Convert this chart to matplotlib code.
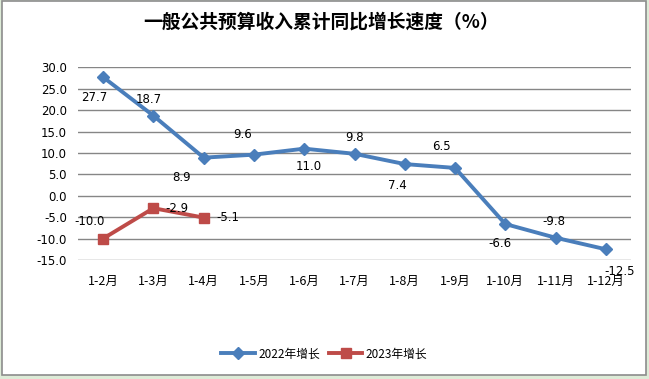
import numpy as np
import matplotlib.pyplot as plt
from matplotlib.patches import Rectangle

plt.rcParams['font.family'] = ['Noto Sans CJK SC', 'DejaVu Sans']

# data
months = ['1-2月', '1-3月', '1-4月', '1-5月', '1-6月', '1-7月', '1-8月', '1-9月', '1-10月', '1-11月', '1-12月']
growth_2022 = [27.7, 18.7, 8.9, 9.6, 11.0, 9.8, 7.4, 6.5, -6.6, -9.8, -12.5]
growth_2023 = [-10.0, -2.9, -5.1]

# label offsets in pixels (dx, dy) relative to each point
off_2022 = [(-9, -20), (-5, 16), (-22, -20), (-11, 20), (5, -18), (0, 16),
            (-7, -21), (-14, 21), (-5, -19), (-2, 16), (14, -22)]
off_2023 = [(-14, 17), (24, 0), (24, 0)]

blue = '#4A7EBB'
red = '#BE4B48'

fig = plt.figure(figsize=(6.49, 3.79), dpi=100)
fig.patch.set_facecolor('#DDEBD7')
# white chart area with grey frame
fig.patches.append(Rectangle((2 / 649, 1 - 375 / 379), 644 / 649, 374 / 379,
                             transform=fig.transFigure, facecolor='white',
                             edgecolor='#8C8C8C', linewidth=1.2, zorder=-10))

ax = fig.add_axes([78 / 649, 1 - 260 / 379, 553 / 649, 192.7 / 379])
ax.set_facecolor('none')

x = np.arange(len(months))
x23 = np.arange(len(growth_2023))

ax.plot(x, growth_2022, color=blue, lw=2.8, marker='D', ms=6.5,
        label='2022年增长', zorder=3)
ax.plot(x23, growth_2023, color=red, lw=2.8, marker='s', ms=7.5,
        label='2023年增长', zorder=3)

for xi, v, (dx, dy) in zip(x, growth_2022, off_2022):
    ax.annotate(f'{v:.1f}', (xi, v), xytext=(dx, dy), textcoords='offset pixels',
                ha='center', va='center', fontsize=8.5, family='DejaVu Sans')
for xi, v, (dx, dy) in zip(x23, growth_2023, off_2023):
    ax.annotate(f'{v:.1f}', (xi, v), xytext=(dx, dy), textcoords='offset pixels',
                ha='center', va='center', fontsize=8.5, family='DejaVu Sans')

ax.set_xlim(-0.5, len(months) - 0.5)
ax.set_ylim(-15, 30)
ax.set_yticks(np.arange(-15, 31, 5))
ax.set_yticklabels([f'{t:.1f}' for t in np.arange(-15, 31, 5)], fontsize=8.5,
                   family='DejaVu Sans')
ax.set_xticks(x)
ax.set_xticklabels(months, fontsize=9)
ax.tick_params(length=0)
ax.tick_params(axis='x', pad=11)
ax.tick_params(axis='y', pad=8)
ax.grid(axis='y', color='#868686', lw=1)
ax.set_axisbelow(True)
for s in ax.spines.values():
    s.set_visible(False)

fig.text(0.495, 1 - 22 / 379, '一般公共预算收入累计同比增长速度（%）',
         ha='center', va='center', fontsize=13.5, fontweight='bold')

fig.legend(loc='center', bbox_to_anchor=(0.5, 1 - 354 / 379), ncol=2,
           frameon=False, fontsize=8.5, handlelength=2.8, columnspacing=0.8,
           handletextpad=0.3)

fig.savefig('out.png', dpi=100, facecolor=fig.get_facecolor())
